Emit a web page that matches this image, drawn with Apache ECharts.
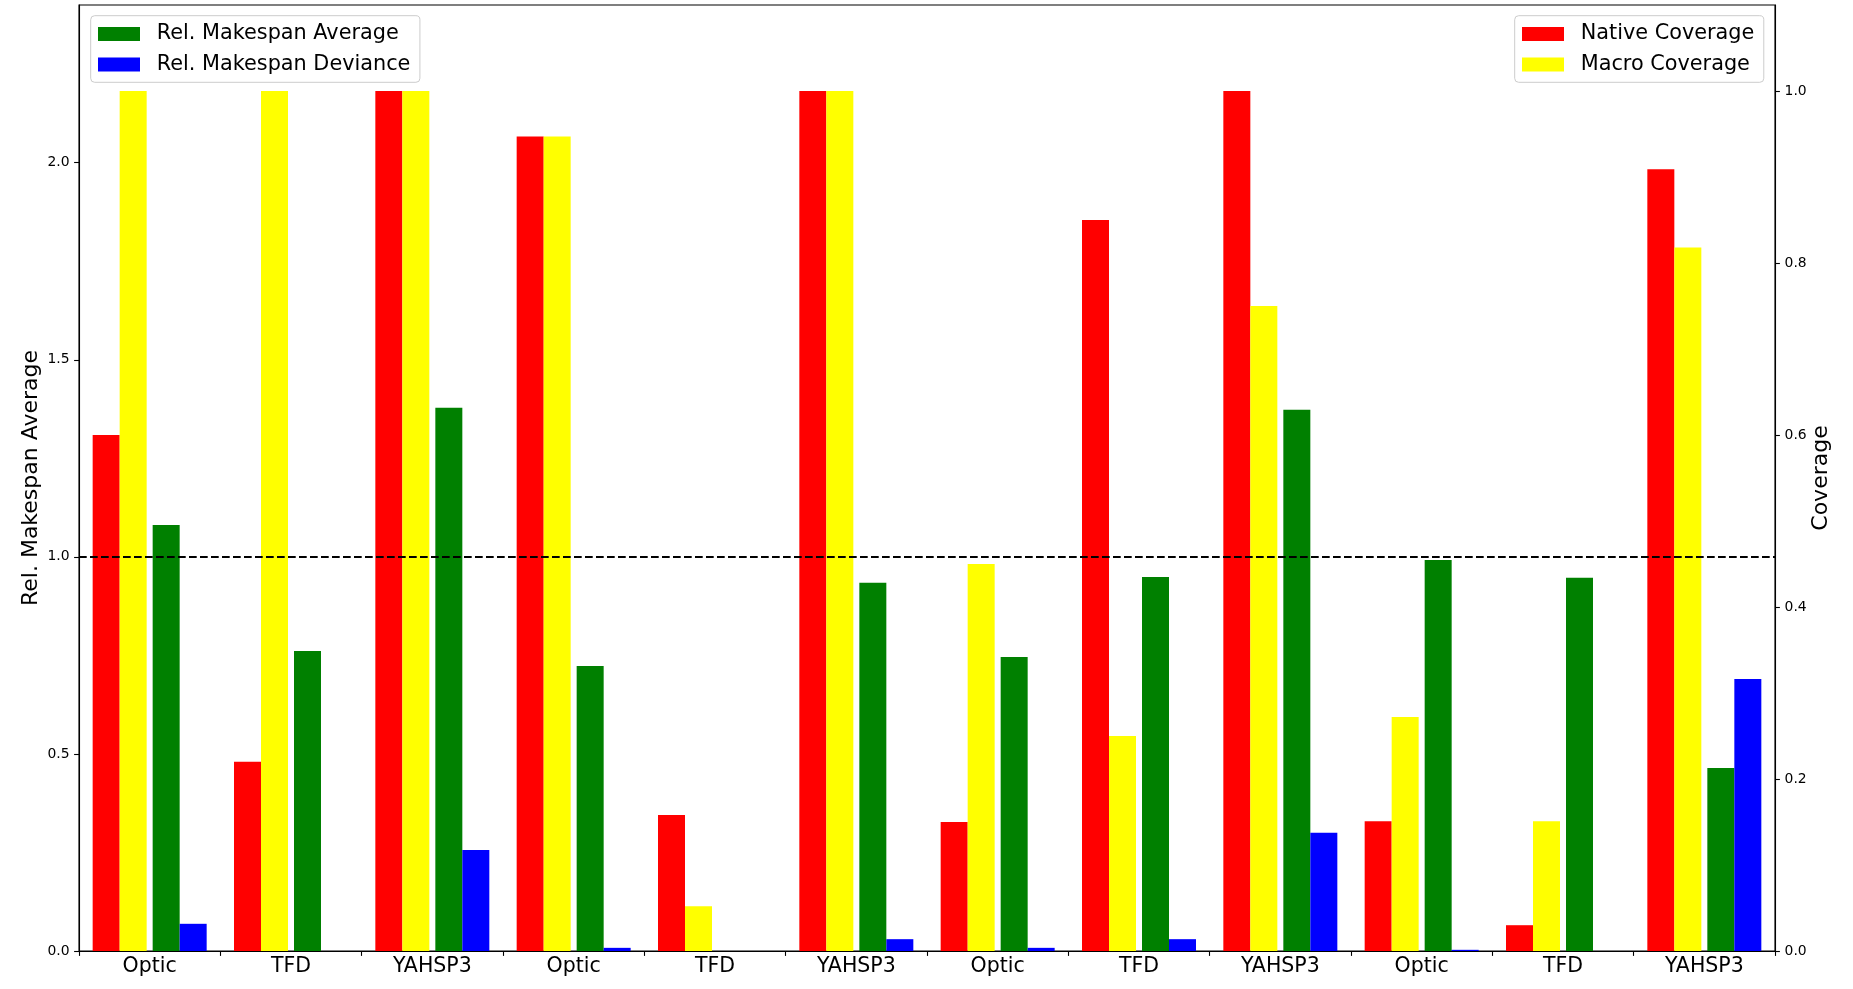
<!DOCTYPE html>
<html>
<head>
<meta charset="utf-8">
<script src="https://cdn.jsdelivr.net/npm/echarts@6/dist/echarts.min.js"></script>
<style>
html, body { margin: 0; padding: 0; background: #fff; }
#chart { width: 1853px; height: 989px; }
</style>
</head>
<body>
<div id="chart"></div>
<script>
// ---- data ----
const categories = ['Optic', 'TFD', 'YAHSP3', 'Optic', 'TFD', 'YAHSP3', 'Optic', 'TFD', 'YAHSP3', 'Optic', 'TFD', 'YAHSP3'];
const nativeCoverage = [0.600, 0.220, 1.000, 0.947, 0.158, 1.000, 0.150, 0.850, 1.000, 0.151, 0.030, 0.909];
const macroCoverage  = [1.000, 1.000, 1.000, 0.947, 0.052, 1.000, 0.450, 0.250, 0.750, 0.272, 0.151, 0.818];
const makespanAverage  = [1.081, 0.761, 1.378, 0.723, 0.000, 0.934, 0.746, 0.949, 1.373, 0.992, 0.947, 0.464];
const makespanDeviance = [0.069, 0.000, 0.256, 0.008, 0.000, 0.030, 0.008, 0.030, 0.300, 0.003, 0.000, 0.690];
const leftTicks  = [0, 0.5, 1.0, 1.5, 2.0];
const rightTicks = [0, 0.2, 0.4, 0.6, 0.8, 1.0];
const referenceLine = 1.0;

const FONT = 'DejaVu Sans';
const chart = echarts.init(document.getElementById('chart'), null, { renderer: 'canvas' });

const legendCommon = {
  orient: 'vertical',
  align: 'left',
  top: 15.7,
  itemWidth: 42,
  itemHeight: 14,
  itemGap: 6.5,
  padding: [6.2, 9.5, 5.9, 7.3],
  backgroundColor: '#ffffff',
  borderColor: '#cccccc',
  borderWidth: 1,
  borderRadius: 4,
  icon: 'rect',
  selectedMode: false,
  textStyle: { fontFamily: FONT, fontSize: 20.8, color: '#000', lineHeight: 24, padding: [0, 0, 0, 11.7] }
};

const option = {
  animation: false,
  backgroundColor: '#ffffff',
  textStyle: { fontFamily: FONT },
  grid: {
    left: 79, right: 78, top: 5, bottom: 38,
    show: true, borderColor: '#000', borderWidth: 1.1, backgroundColor: 'transparent'
  },
  legend: [
    Object.assign({}, legendCommon, { left: 90.7, data: ['Rel. Makespan Average', 'Rel. Makespan Deviance'] }),
    Object.assign({}, legendCommon, { left: 1514.7, data: ['Native Coverage', 'Macro Coverage'] })
  ],
  xAxis: {
    type: 'category',
    data: categories,
    boundaryGap: true,
    axisLine: { show: true, lineStyle: { color: '#000', width: 1.1 } },
    axisTick: { show: true, length: 4.9, lineStyle: { color: '#000', width: 1.1 } },
    axisLabel: { interval: 0, fontFamily: FONT, fontSize: 20.5, color: '#000', margin: 5.4 },
    splitLine: { show: false }
  },
  yAxis: [
    {
      type: 'value', min: 0, max: 2.4, interval: 0.5,
      name: 'Rel. Makespan Average', nameLocation: 'middle', nameGap: 36.5, nameRotate: 90, nameMoveOverlap: false,
      nameTextStyle: { fontFamily: FONT, fontSize: 22, color: '#000' },
      axisLine: { show: true, lineStyle: { color: '#000', width: 1.1 } },
      axisTick: { show: true, length: 4.9, customValues: leftTicks, lineStyle: { color: '#000', width: 1.1 } },
      axisLabel: { customValues: leftTicks, formatter: v => Number(v).toFixed(1), fontFamily: FONT, fontSize: 13.9, color: '#000', margin: 9.5 },
      splitLine: { show: false }
    },
    {
      type: 'value', min: 0, max: 1.1, interval: 0.2, position: 'right',
      name: 'Coverage', nameLocation: 'middle', nameGap: 35, nameRotate: 90, nameMoveOverlap: false,
      nameTextStyle: { fontFamily: FONT, fontSize: 22, color: '#000' },
      axisLine: { show: true, lineStyle: { color: '#000', width: 1.1 } },
      axisTick: { show: true, length: 4.9, customValues: rightTicks, lineStyle: { color: '#000', width: 1.1 } },
      axisLabel: { customValues: rightTicks, formatter: v => Number(v).toFixed(1), fontFamily: FONT, fontSize: 13.9, color: '#000', margin: 9.6 },
      splitLine: { show: false }
    }
  ],
  series: [
    { name: 'Native Coverage', type: 'bar', yAxisIndex: 1, data: nativeCoverage, barWidth: 27, barGap: '0%', itemStyle: { color: '#ff0000' } },
    { name: 'Macro Coverage', type: 'bar', yAxisIndex: 1, data: macroCoverage, barWidth: 27, barGap: '0%', itemStyle: { color: '#ffff00' } },
    { name: 'spacer', type: 'bar', yAxisIndex: 0, data: categories.map(() => '-'), barWidth: 6, barGap: '0%', itemStyle: { color: 'transparent' }, silent: true },
    { name: 'Rel. Makespan Average', type: 'bar', yAxisIndex: 0, data: makespanAverage, barWidth: 27, barGap: '0%', itemStyle: { color: '#008000' },
      markLine: {
        silent: true, symbol: ['none', 'none'], label: { show: false },
        lineStyle: { color: '#000', width: 2, type: [7.7, 3.3] },
        emphasis: { disabled: true },
        data: [{ yAxis: referenceLine }]
      }
    },
    { name: 'Rel. Makespan Deviance', type: 'bar', yAxisIndex: 0, data: makespanDeviance, barWidth: 27, barGap: '0%', itemStyle: { color: '#0000ff' } }
  ]
};
chart.setOption(option);
</script>
</body>
</html>
